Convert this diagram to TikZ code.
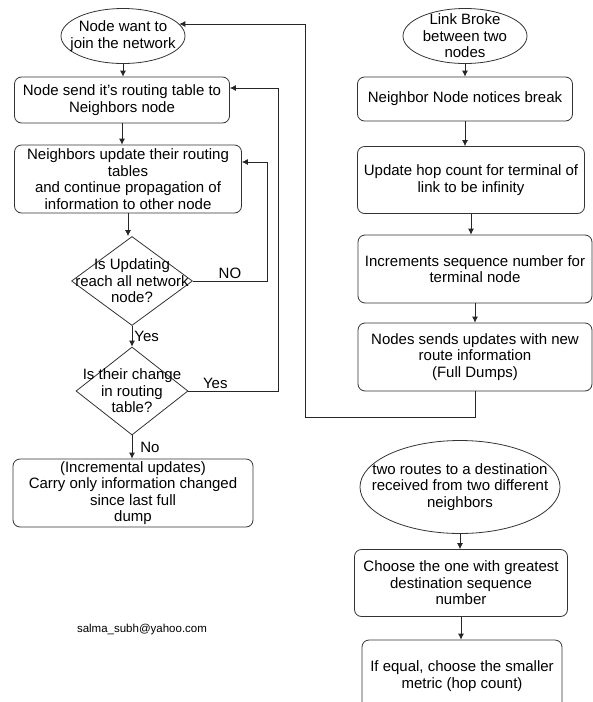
\documentclass[tikz,border=0pt]{standalone}
\usepackage{fontspec}
\setmainfont{Liberation Sans}
\usetikzlibrary{shapes.geometric,arrows.meta}
\tikzset{
  txt/.style={font=\fontsize{15}{16.5}\selectfont},
  box/.style={txt, draw=black!80, line width=0.8pt, rounded corners=7pt, align=center, inner sep=1pt},
  start/.style={txt, draw=black!80, line width=0.8pt, ellipse, align=center, inner sep=-45pt},
  test/.style={txt, draw=black!80, line width=0.8pt, diamond, align=center, inner sep=-45pt},
  arr/.style={draw=black!85, line width=0.8pt, -{Latex[length=6pt,width=6pt]}},
  lbl/.style={txt, inner sep=2pt}
}
\begin{document}
\begin{tikzpicture}[x=1pt,y=-1pt]
      \useasboundingbox (0,0) rectangle (593,702);
      % left column
      \node[start, minimum width=124pt, minimum height=55pt] (join) at (123,36) {Node want to\\join the network};
      \node[box, minimum width=215pt, minimum height=46pt] (send) at (122,100) {Node send it's routing table to\\Neighbors node};
      \node[box, minimum width=227pt, minimum height=68pt] (nbr) at (128,179) {Neighbors update their routing\\tables\\and continue propagation of\\information to other node};
      \node[test, minimum width=121pt, minimum height=89pt] (reach) at (132,281) {Is Updating\\reach all network\\node?};
      \node[test, minimum width=112pt, minimum height=88pt] (chg) at (132,391) {Is their change\\in routing\\table?};
      \node[box, minimum width=240pt, minimum height=68pt] (incr) at (133,493) {(Incremental updates)\\Carry only information changed\\since last full\\dump};
      \node[font=\fontsize{11.5}{13}\selectfont] (mail) at (142,630) {salma\_subh@yahoo.com};
      % right column
      \node[start, minimum width=124pt, minimum height=55pt] (brk) at (465,36) {Link Broke\\between two\\nodes};
      \node[box, minimum width=215pt, minimum height=44pt] (notice) at (465,99) {Neighbor Node notices break};
      \node[box, minimum width=227pt, minimum height=67pt] (hop) at (471,180) {Update hop count for terminal of\\link to be infinity};
      \node[box, minimum width=234pt, minimum height=68pt] (seq) at (475,269) {Increments sequence number for\\terminal node};
      \node[box, minimum width=234pt, minimum height=68pt] (sends) at (475,357) {Nodes sends updates with new\\route information\\(Full Dumps)};
      \node[start, minimum width=200pt, minimum height=93pt] (two) at (460,487) {two routes to a destination\\received from two different\\neighbors};
      \node[box, minimum width=213pt, minimum height=67pt] (choose) at (461,583) {Choose the one with greatest\\destination sequence\\number};
      \node[box, minimum width=200pt, minimum height=72pt] (equal) at (462,676) {If equal, choose the smaller\\metric (hop count)};
      \coordinate (loopno) at (267,281);
      \coordinate (loopyes) at (278,391);
      \coordinate (back) at (305,417);

      \draw[arr] (join.south) -- (join.south |- send.north);
      \draw[arr] (send.south) -- (send.south |- nbr.north);
      \draw[arr] (nbr.south) -- (nbr.south |- reach.north);
      \draw[arr] (reach.south) -- node[lbl, right] {Yes} (reach.south |- chg.north);
      \draw[arr] (chg.south) -- node[lbl, right, xshift=6pt] {No} (chg.south |- incr.north);
      \draw[arr] (reach.east) -- node[lbl, above] {NO} (loopno) |- ([yshift=17pt]nbr.east);
      \draw[arr] (chg.east) -- node[lbl, above, pos=0.3] {Yes} (loopyes) |- ([yshift=12pt]send.east);
      \draw[arr] (brk.south) -- (brk.south |- notice.north);
      \draw[arr] (notice.south) -- (notice.south |- hop.north);
      \draw[arr] (hop.south) -- (hop.south |- seq.north);
      \draw[arr] (seq.south) -- (seq.south |- sends.north);
      \draw[arr] (sends.south) |- (back) |- (join.12);
      \draw[arr] (two.south) -- (two.south |- choose.north);
      \draw[arr] (choose.south) -- (choose.south |- equal.north);
\end{tikzpicture}
\end{document}
